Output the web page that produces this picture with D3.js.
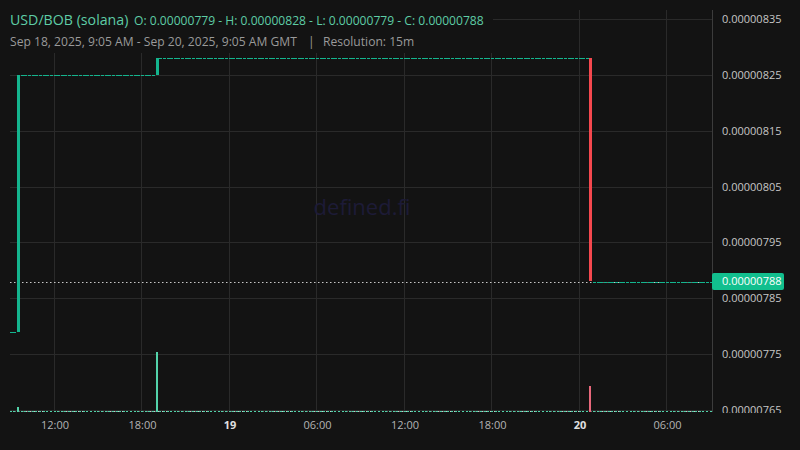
<!DOCTYPE html>
<html>
<head>
<meta charset="utf-8">
<script src="https://cdn.jsdelivr.net/npm/d3@7"></script>
<style>
  body { margin: 0; background: #131313; }
  svg { display: block; font-family: "Open Sans", sans-serif; }
</style>
</head>
<body>
<div id="chart-area"></div>
<script>
// USD/BOB (solana), 15m candles, prices in units of 1e-8
const priceUnit = 1e-8
const firstCandle = Date.UTC(2025, 8, 18, 9, 0)
const candleMinutes = 15

const opens = [
  779,779,779,825,825,825,825,825,
  825,825,825,825,825,825,825,825,
  825,825,825,825,825,825,825,825,
  825,825,825,825,825,825,825,825,
  825,825,825,825,825,825,825,825,
  825,828,828,828,828,828,828,828,
  828,828,828,828,828,828,828,828,
  828,828,828,828,828,828,828,828,
  828,828,828,828,828,828,828,828,
  828,828,828,828,828,828,828,828,
  828,828,828,828,828,828,828,828,
  828,828,828,828,828,828,828,828,
  828,828,828,828,828,828,828,828,
  828,828,828,828,828,828,828,828,
  828,828,828,828,828,828,828,828,
  828,828,828,828,828,828,828,828,
  828,828,828,828,828,828,828,828,
  828,828,828,828,828,828,828,828,
  828,828,828,828,828,828,828,828,
  828,828,828,828,828,828,828,828,
  788,788,788,788,788,788,788,788,
  788,788,788,788,788,788,788,788,
  788,788,788,788,788,788,788,788,
  788,788,788,788,788,788,788,788,
  788
]

const closes = [
  779,779,825,825,825,825,825,825,
  825,825,825,825,825,825,825,825,
  825,825,825,825,825,825,825,825,
  825,825,825,825,825,825,825,825,
  825,825,825,825,825,825,825,825,
  828,828,828,828,828,828,828,828,
  828,828,828,828,828,828,828,828,
  828,828,828,828,828,828,828,828,
  828,828,828,828,828,828,828,828,
  828,828,828,828,828,828,828,828,
  828,828,828,828,828,828,828,828,
  828,828,828,828,828,828,828,828,
  828,828,828,828,828,828,828,828,
  828,828,828,828,828,828,828,828,
  828,828,828,828,828,828,828,828,
  828,828,828,828,828,828,828,828,
  828,828,828,828,828,828,828,828,
  828,828,828,828,828,828,828,828,
  828,828,828,828,828,828,828,828,
  828,828,828,828,828,828,828,788,
  788,788,788,788,788,788,788,788,
  788,788,788,788,788,788,788,788,
  788,788,788,788,788,788,788,788,
  788,788,788,788,788,788,788,788,
  788
]

const volumes = [
  0,0,6,0,0,0,0,0,
  0,0,0,0,0,0,0,0,
  0,0,0,0,0,0,0,0,
  0,0,0,0,0,0,0,0,
  0,0,0,0,0,0,0,0,
  100,0,0,0,0,0,0,0,
  0,0,0,0,0,0,0,0,
  0,0,0,0,0,0,0,0,
  0,0,0,0,0,0,0,0,
  0,0,0,0,0,0,0,0,
  0,0,0,0,0,0,0,0,
  0,0,0,0,0,0,0,0,
  0,0,0,0,0,0,0,0,
  0,0,0,0,0,0,0,0,
  0,0,0,0,0,0,0,0,
  0,0,0,0,0,0,0,0,
  0,0,0,0,0,0,0,0,
  0,0,0,0,0,0,0,0,
  0,0,0,0,0,0,0,0,
  0,0,0,0,0,0,0,42,
  0,0,0,0,0,0,0,0,
  0,0,0,0,0,0,0,0,
  0,0,0,0,0,0,0,0,
  0,0,0,0,0,0,0,0,
  0
]

const priceTicks = [765, 775, 785, 795, 805, 815, 825, 835]
const timeTicks = [
  Date.UTC(2025, 8, 18, 12), Date.UTC(2025, 8, 18, 18),
  Date.UTC(2025, 8, 19, 0), Date.UTC(2025, 8, 19, 6),
  Date.UTC(2025, 8, 19, 12), Date.UTC(2025, 8, 19, 18),
  Date.UTC(2025, 8, 20, 0), Date.UTC(2025, 8, 20, 6)
]
const timeLabels = ["12:00", "18:00", "19", "06:00", "12:00", "18:00", "20", "06:00"]
const dayLabels = ["19", "20"]
const lastPrice = 788

const upColor = "#14b58e"
const downColor = "#f5484e"
const upVol = "#53d3aa"
const downVol = "#e8687b"
const gridColor = "#2a2a2a"

const W = 800, H = 450
const pane = { left: 10, right: 712, top: 10, bottom: 412 }

let svg = d3.select("#chart-area").append("svg")
            .attr("width", W)
            .attr("height", H)

svg.append("rect").attr("width", W).attr("height", H).attr("fill", "#131313")

let x = d3.scaleUtc()
          .domain([Date.UTC(2025, 8, 18, 9, 5), Date.UTC(2025, 8, 20, 9, 5)])
          .range([12, 712])
let y = d3.scaleLinear().domain([765, 835]).range([410, 19])
let vol = d3.scaleLinear().domain([0, 100]).range([411, 352])

let candles = closes.map((c, i) => ({
  t: firstCandle + i * candleMinutes * 60000,
  o: opens[i], c: c, v: volumes[i]
}))

svg.append("clipPath").attr("id", "pane")
   .append("rect")
   .attr("x", pane.left).attr("y", pane.top)
   .attr("width", pane.right - pane.left).attr("height", pane.bottom - pane.top)

let plot = svg.append("g").attr("clip-path", "url(#pane)")

// grid
plot.selectAll(".hgrid").data(priceTicks).enter()
    .append("line")
    .attr("x1", pane.left).attr("x2", pane.right)
    .attr("y1", d => Math.round(y(d)) + 0.5).attr("y2", d => Math.round(y(d)) + 0.5)
    .attr("stroke", gridColor)
plot.selectAll(".vgrid").data(timeTicks).enter()
    .append("line")
    .attr("x1", d => Math.round(x(d)) - 0.5).attr("x2", d => Math.round(x(d)) - 0.5)
    .attr("y1", pane.top).attr("y2", pane.bottom)
    .attr("stroke", gridColor)

// watermark
plot.append("text")
    .attr("x", 362).attr("y", 215)
    .attr("text-anchor", "middle")
    .attr("font-size", 22)
    .attr("fill", "#1d1b37")
    .text("defined.fi")

// price lines
plot.append("line")
    .attr("x1", pane.left).attr("x2", pane.right)
    .attr("y1", Math.round(y(lastPrice)) + 0.5).attr("y2", Math.round(y(lastPrice)) + 0.5)
    .attr("stroke", "#c8c8c8").attr("stroke-dasharray", "1.5,2.5")
plot.append("line")
    .attr("x1", pane.left).attr("x2", pane.right)
    .attr("y1", 411.5).attr("y2", 411.5)
    .attr("stroke", "#c8c8c8").attr("stroke-dasharray", "1.5,2.5")

// volume
plot.selectAll(".vol").data(candles).enter()
    .append("rect")
    .attr("x", d => Math.round(x(d.t)) - 1)
    .attr("width", 2)
    .attr("y", d => Math.min(Math.round(vol(d.v)), 411))
    .attr("height", d => Math.max(1, 412 - Math.round(vol(d.v))))
    .attr("fill", d => d.c >= d.o ? upVol : downVol)
    .attr("shape-rendering", "crispEdges")

// candles
plot.selectAll(".candle").data(candles).enter()
    .append("rect")
    .attr("x", d => Math.round(x(d.t)) - 1)
    .attr("width", 3)
    .attr("y", d => Math.round(y(Math.max(d.o, d.c))))
    .attr("height", d => Math.max(1, Math.round(Math.abs(y(d.o) - y(d.c)))))
    .attr("fill", d => d.c >= d.o ? upColor : downColor)
    .attr("shape-rendering", "crispEdges")

// right axis
svg.append("line")
   .attr("x1", pane.right + 0.5).attr("x2", pane.right + 0.5)
   .attr("y1", pane.top).attr("y2", pane.bottom)
   .attr("stroke", "#3c3c3c")

svg.append("clipPath").attr("id", "axisclip")
   .append("rect").attr("x", 0).attr("y", 0)
   .attr("width", W - pane.right).attr("height", pane.bottom + 1)

let yAxis = svg.append("g")
   .attr("transform", `translate(${pane.right},0)`)
   .attr("clip-path", "url(#axisclip)")
   .call(d3.axisRight(y).tickValues(priceTicks).tickSize(0).tickPadding(10)
           .tickFormat(d => (d * priceUnit).toFixed(8)))
yAxis.select(".domain").remove()
yAxis.selectAll("text")
     .attr("font-family", "Open Sans")
     .attr("font-size", 11)
     .attr("fill", "#c6c6c6")

// last price label
let ly = y(lastPrice)
svg.append("rect")
   .attr("x", pane.right).attr("y", ly - 8.5)
   .attr("width", 72).attr("height", 17).attr("rx", 2)
   .attr("fill", "#12bf8e")
svg.append("text")
   .attr("x", pane.right + 10).attr("y", ly)
   .attr("dy", "0.35em")
   .attr("font-size", 11)
   .attr("fill", "#ffffff")
   .text((lastPrice * priceUnit).toFixed(8))

// bottom axis
let xAxis = svg.append("g")
   .attr("transform", `translate(0,${pane.bottom})`)
   .call(d3.axisBottom(x).tickValues(timeTicks).tickSize(0).tickPadding(9)
           .tickFormat((d, i) => timeLabels[i]))
xAxis.select(".domain").remove()
xAxis.selectAll("text")
     .attr("font-family", "Open Sans")
     .attr("font-size", 11)
     .attr("fill", d => dayLabels.includes(timeLabels[timeTicks.indexOf(d)]) ? "#e0e0e0" : "#b4b4b4")
     .attr("font-weight", d => dayLabels.includes(timeLabels[timeTicks.indexOf(d)]) ? "bold" : "normal")

// header
svg.append("rect").attr("x", 0).attr("y", 0).attr("width", 493).attr("height", 53).attr("fill", "#131313")
svg.append("text")
   .attr("x", 10).attr("y", 25)
   .attr("font-size", 14.2)
   .attr("fill", "#5ecda6")
   .text("USD/BOB (solana)")
svg.append("text")
   .attr("x", 134).attr("y", 25)
   .attr("font-size", 12.1)
   .attr("fill", "#5ecda6")
   .text("O: " + (opens[2] * priceUnit).toFixed(8) +
         " - H: " + (d3.max(closes) * priceUnit).toFixed(8) +
         " - L: " + (d3.min(closes) * priceUnit).toFixed(8) +
         " - C: " + (lastPrice * priceUnit).toFixed(8))
svg.append("text")
   .attr("x", 10).attr("y", 46)
   .attr("font-size", 12.1)
   .attr("fill", "#9a9a9a")
   .text("Sep 18, 2025, 9:05 AM - Sep 20, 2025, 9:05 AM GMT")
svg.append("text")
   .attr("x", 308).attr("y", 46)
   .attr("font-size", 12.1)
   .attr("fill", "#9a9a9a")
   .text("|")
svg.append("text")
   .attr("x", 323).attr("y", 46)
   .attr("font-size", 12.1)
   .attr("fill", "#9a9a9a")
   .text("Resolution: 15m")
</script>
</body>
</html>
